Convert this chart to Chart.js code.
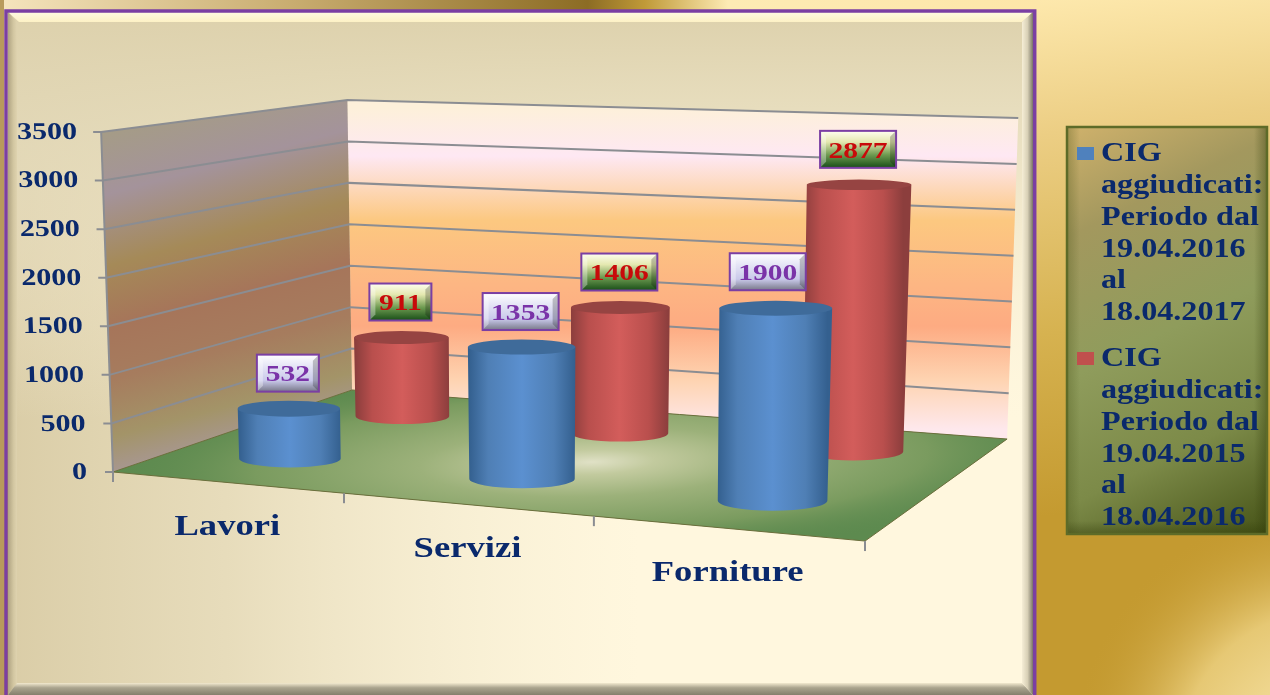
<!DOCTYPE html>
<html>
<head>
<meta charset="utf-8">
<style>html,body{margin:0;padding:0;background:#c49a30;overflow:hidden}canvas{display:block}</style>
<script src="https://cdn.jsdelivr.net/npm/chart.js@4/dist/chart.umd.min.js"></script>
</head>
<body>
<canvas id="c" width="1270" height="695"></canvas>
<script>
const categories = ['Lavori', 'Servizi', 'Forniture'];
const seriesNames = ['CIG aggiudicati: Periodo dal 19.04.2016 al 18.04.2017', 'CIG aggiudicati: Periodo dal 19.04.2015 al 18.04.2016'];
const values2017 = [532, 1353, 1900];
const values2016 = [911, 1406, 2877];
const legendLines2017 = ['CIG', 'aggiudicati:', 'Periodo dal', '19.04.2016', 'al', '18.04.2017'];
const legendLines2016 = ['CIG', 'aggiudicati:', 'Periodo dal', '19.04.2015', 'al', '18.04.2016'];
const axisMax = 3500;
const axisStep = 500;

const SERIF = '"Liberation Serif"';
const NAVY = '#0a296c';
const GRID = '#8b8d92';
// Camera model of the 3D scene: floor homography, wall height, series depth
const HOM = {a: 654.1, b: 299.8, c: 113, d: 7.8, e: -14.7, f: 472, g: -0.1132, h: 0.1726};
const WALL_H = 340, LEAN = 7.8e-5, LEAN_X = 560, CYL_K = 0.988;
const DEPTH = [0.25, 0.75], RADIUS = 52;
const STYLE = [
  {edge: '#34608f', mid: '#5b90d0', side: '#4f7fb5', top: '#3f6b9a', text: '#7a33a8',
   box: [[0, '#ffffff'], [.3, '#e6e6f6'], [.7, '#c9c9ea'], [1, '#777788']]},
  {edge: '#8c3e3d', mid: '#d35d5b', side: '#b94f4d', top: '#964442', text: '#c80a0a',
   box: [[0, '#fffff0'], [.3, '#e4e8b0'], [.65, '#6d9a50'], [1, '#174d17']]}
];
const NUDGE = {'0,2': [-7, -1]};

function project(u, v, frac) {
  const w = HOM.g * u + HOM.h * v + 1;
  const bx = (HOM.a * u + HOM.b * v + HOM.c) / w;
  const by = (HOM.d * u + HOM.e * v + HOM.f) / w;
  const h = WALL_H / w * frac;
  return {x: bx + (bx - LEAN_X) * LEAN * h, y: by - h, h: h, w: w};
}
function poly(ctx, pts) {
  ctx.beginPath();
  pts.forEach((p, i) => i ? ctx.lineTo(p.x, p.y) : ctx.moveTo(p.x, p.y));
  ctx.closePath();
}
function lin(ctx, x0, y0, x1, y1, stops) {
  const g = ctx.createLinearGradient(x0, y0, x1, y1);
  stops.forEach(s => g.addColorStop(s[0], s[1]));
  return g;
}
function stretchText(ctx, text, x, y, sx, align) {
  ctx.save();
  ctx.translate(x, y);
  ctx.scale(sx, 1);
  ctx.textAlign = align;
  ctx.textBaseline = 'middle';
  ctx.fillText(text, 0, 0);
  ctx.restore();
}

function drawPage(ctx) {
  const W = 1270, H = 695;
  ctx.fillStyle = lin(ctx, 1040, 0, 1110, 600, [[0, '#fde8ac'], [.22, '#ecce84'], [.55, '#d6b250'], [.85, '#c49a30'], [1, '#c49a30']]);
  ctx.fillRect(0, 0, W, H);
  const r = ctx.createRadialGradient(1330, 760, 40, 1330, 760, 260);
  r.addColorStop(0, '#f6e2a4'); r.addColorStop(.5, '#e6c874'); r.addColorStop(1, 'rgba(196,154,48,0)');
  ctx.fillStyle = r; ctx.fillRect(1036, 400, 234, 295);
  ctx.fillStyle = lin(ctx, 0, 0, 1040, 0, [[0, '#f5e4bd'], [.28, '#c9ad70'], [.565, '#8c6c24'], [.62, '#c09a38'], [.7, '#fdebb4'], [1, '#fde6a8']]);
  ctx.fillRect(0, 0, 1040, 11);
  ctx.fillStyle = '#b89a5c'; ctx.fillRect(0, 0, 4, H);
  // panel
  const L = 8, T = 12, R = 1033, B = 695, bv = 11;
  ctx.fillStyle = '#fff7de';
  ctx.fillRect(L, T, R - L, B - T);
  ctx.fillStyle = lin(ctx, L, 0, 640, 0, [[0, 'rgba(218,205,167,1)'], [.35, 'rgba(222,210,174,.72)'], [1, 'rgba(240,230,200,0)']]);
  ctx.fillRect(L, T, R - L, B - T);
  ctx.fillStyle = lin(ctx, 0, T, 0, 420, [[0, 'rgba(221,209,172,1)'], [.3, 'rgba(228,218,186,.8)'], [1, 'rgba(250,240,214,0)']]);
  ctx.fillRect(L, T, R - L, B - T);
  const band = (pts, fill) => { poly(ctx, pts); ctx.fillStyle = fill; ctx.fill(); };
  band([{x: L, y: T}, {x: R, y: T}, {x: R - bv, y: T + bv - 1}, {x: L + bv, y: T + bv - 1}], lin(ctx, 0, T, 0, T + bv, [[0, '#fffbe2'], [1, '#fdf0c2']]));
  band([{x: L, y: T}, {x: L + 9, y: T + 10}, {x: L + 9, y: B - 12}, {x: L, y: B}], lin(ctx, L, 0, L + 9, 0, [[0, '#b0a482'], [.6, '#d2c6a1'], [1, '#dfd3af']]));
  band([{x: L, y: B}, {x: L + 9, y: B - 12}, {x: R - bv, y: B - 12}, {x: R, y: B}], lin(ctx, 0, B - 12, 0, B, [[0, '#f2e9cf'], [.4, '#aaa48e'], [1, '#857f6c']]));
  band([{x: R, y: T}, {x: R - bv, y: T + bv - 1}, {x: R - bv, y: B - 12}, {x: R, y: B}], lin(ctx, R - bv, 0, R, 0, [[0, '#f6eed6'], [.5, '#d8d0b6'], [1, '#7b7666']]));
  ctx.strokeStyle = '#7b3fa3'; ctx.lineWidth = 3.5;
  ctx.beginPath(); ctx.moveTo(6, H); ctx.lineTo(6, 11); ctx.lineTo(1034.7, 11); ctx.lineTo(1034.7, H); ctx.stroke();
}

function drawLegend(ctx, datasets) {
  const x = 1066, y = 126, w = 202, h = 409;
  ctx.fillStyle = lin(ctx, x, y, x + w, y + h, [[0, '#d0b26c'], [.22, '#a3985e'], [.5, '#8f9c5c'], [.75, '#7c8a48'], [1, '#465317']]);
  ctx.fillRect(x, y, w, h);
  ctx.fillStyle = lin(ctx, x, 0, x + 14, 0, [[0, 'rgba(70,80,20,.35)'], [1, 'rgba(70,80,20,0)']]); ctx.fillRect(x, y, 14, h);
  ctx.fillStyle = lin(ctx, x + w - 14, 0, x + w, 0, [[0, 'rgba(50,60,10,0)'], [1, 'rgba(50,60,10,.45)']]); ctx.fillRect(x + w - 14, y, 14, h);
  ctx.fillStyle = lin(ctx, 0, y + h - 14, 0, y + h, [[0, 'rgba(50,60,10,0)'], [1, 'rgba(50,60,10,.45)']]); ctx.fillRect(x, y + h - 14, w, 14);
  ctx.strokeStyle = '#5d6b28'; ctx.lineWidth = 2.5; ctx.strokeRect(x + 1, y + 1, w - 2, h - 2);
  const groups = [legendLines2017, legendLines2016];
  const starts = [154.5, 359.5];
  groups.forEach((lines, g) => {
    ctx.fillStyle = datasets[g].backgroundColor;
    ctx.fillRect(1077, starts[g] - 7.5, 17, 13);
    ctx.fillStyle = NAVY;
    ctx.font = 'bold 27px ' + SERIF;
    lines.forEach((t, i) => stretchText(ctx, t, 1101, starts[g] + i * 31.7, 1.19, 'left'));
  });
}

function drawScene(chart) {
  const ctx = chart.ctx, y = chart.scales.y;
  const A = project(0, 0, 0), B = project(1, 0, 0), C = project(1, 1, 0), D = project(0, 1, 0);
  const At = project(0, 0, 1), Ct = project(1, 1, 1), Dt = project(0, 1, 1);
  // back wall
  poly(ctx, [D, Dt, Ct, C]);
  ctx.fillStyle = lin(ctx, 680, Dt.y + 8, 680, C.y - 10, [[0, '#fdf0da'], [.15, '#fee8f3'], [.35, '#fcc880'], [.55, '#fdb683'], [.68, '#fdab82'], [.85, '#fed4b2'], [1, '#fee8ec']]);
  ctx.fill();
  // left wall
  poly(ctx, [A, At, Dt, D]);
  ctx.fillStyle = lin(ctx, 180, 110, 270, 445, [[0, '#a59c86'], [.18, '#a4939b'], [.38, '#a58a58'], [.55, '#a6755a'], [.7, '#a67c5e'], [.86, '#a39468'], [1, '#a998a0']]);
  ctx.fill();
  // floor
  poly(ctx, [A, B, C, D]);
  ctx.fillStyle = '#5d8a4f';
  ctx.fill();
  ctx.save();
  ctx.clip();
  ctx.translate(592, 462); ctx.rotate(-0.03); ctx.scale(1, 0.2);
  const r = ctx.createRadialGradient(0, 0, 0, 0, 0, 480);
  r.addColorStop(0, '#e0e1c6'); r.addColorStop(.13, '#c2ca9e'); r.addColorStop(.36, '#9cb17a'); r.addColorStop(.7, '#7a9b5f'); r.addColorStop(1, 'rgba(93,138,79,0)');
  ctx.fillStyle = r; ctx.fillRect(-700, -900, 1400, 1800);
  ctx.restore();
  poly(ctx, [A, B, C, D]);
  ctx.strokeStyle = '#6b6f3c'; ctx.lineWidth = 1; ctx.stroke();
  // grid lines follow the value scale
  ctx.strokeStyle = GRID; ctx.lineWidth = 2;
  y.ticks.forEach(t => {
    const frac = (y.bottom - y.getPixelForValue(t.value)) / (y.bottom - y.top);
    const a = project(0, 0, frac), d = project(0, 1, frac), c = project(1, 1, frac);
    ctx.beginPath(); ctx.moveTo(a.x - 8, a.y); ctx.lineTo(a.x, a.y);
    if (frac > 0) { ctx.lineTo(d.x, d.y); ctx.lineTo(c.x, c.y); }
    ctx.stroke();
  });
  ctx.beginPath(); ctx.moveTo(At.x, At.y); ctx.lineTo(A.x, A.y); ctx.stroke();
  // category ticks on the front edge
  for (let i = 0; i <= categories.length; i++) {
    const p = project(i / categories.length, 0, 0);
    ctx.beginPath(); ctx.moveTo(p.x, p.y); ctx.lineTo(p.x, p.y + 10); ctx.stroke();
  }
}

function drawCylinder(ctx, u, v, frac, st) {
  const b = project(u, v, 0), t = project(u, v, frac * CYL_K);
  const rb = RADIUS / b.w, rt = rb * (1 + 1.5e-4 * t.h);
  const ratio = yy => 0.1 + 0.00025 * (yy - 184);
  const mb = rb * ratio(b.y) * 1.05, mt = rt * ratio(t.y);
  ctx.beginPath();
  ctx.moveTo(t.x - rt, t.y);
  ctx.lineTo(b.x - rb, b.y);
  ctx.ellipse(b.x, b.y, rb, mb, 0, Math.PI, 0, true);
  ctx.lineTo(t.x + rt, t.y);
  ctx.closePath();
  ctx.fillStyle = lin(ctx, b.x - rb, 0, b.x + rb, 0, [[0, st.edge], [.18, st.side], [.5, st.mid], [.8, st.side], [1, st.edge]]);
  ctx.fill();
  ctx.beginPath();
  ctx.ellipse(t.x, t.y, rt, mt, 0, 0, Math.PI * 2);
  ctx.fillStyle = st.top;
  ctx.fill();
}

function drawTag(ctx, text, cx, cy, st) {
  const w = text.length > 3 ? 76 : 62, h = 37, x = cx - w / 2, y = cy - h / 2;
  ctx.fillStyle = lin(ctx, 0, y, 0, y + h, st.box);
  ctx.fillRect(x, y, w, h);
  const e = 6;
  ctx.fillStyle = 'rgba(255,255,255,.35)';
  poly(ctx, [{x: x, y: y}, {x: x + e, y: y + e}, {x: x + e, y: y + h - e}, {x: x, y: y + h}]); ctx.fill();
  ctx.fillStyle = 'rgba(0,0,0,.22)';
  poly(ctx, [{x: x + w, y: y}, {x: x + w - e, y: y + e}, {x: x + w - e, y: y + h - e}, {x: x + w, y: y + h}]); ctx.fill();
  ctx.strokeStyle = '#7b3fa3'; ctx.lineWidth = 2;
  ctx.strokeRect(x, y, w, h);
  ctx.fillStyle = st.text;
  ctx.font = 'bold 24px ' + SERIF;
  stretchText(ctx, text, cx, cy + 2, 1.23, 'center');
}

const scenePlugin = {
  id: 'scene',
  afterLayout(chart) {
    const y = chart.scales.y;
    if (y.__wrapped) return;
    y.__wrapped = true;
    const orig = y.drawLabels;
    y.drawLabels = function (area) {
      const ctx = this.ctx, s = 1.25, k = 10 / 340, ax = this.right - 8, by = this.bottom;
      ctx.save();
      ctx.transform(s, 0, k, 1, ax - s * ax - k * by, 1);
      orig.call(this, area);
      ctx.restore();
    };
  },
  beforeDraw(chart) {
    drawPage(chart.ctx);
    drawLegend(chart.ctx, chart.data.datasets);
  },
  beforeDatasetsDraw(chart) { drawScene(chart); },
  beforeDatasetDraw(chart, args) {
    const x = chart.scales.x, y = chart.scales.y;
    args.meta.data.forEach((el, i) => {
      const u = (x.getPixelForValue(i) - x.left) / x.width;
      const frac = (y.bottom - y.getPixelForValue(chart.data.datasets[args.index].data[i])) / (y.bottom - y.top);
      drawCylinder(chart.ctx, u, DEPTH[args.index], frac, STYLE[args.index]);
    });
    return false;
  },
  afterDatasetsDraw(chart) {
    const ctx = chart.ctx, x = chart.scales.x, y = chart.scales.y;
    chart.data.datasets.forEach((ds, d) => ds.data.forEach((val, i) => {
      const u = (x.getPixelForValue(i) - x.left) / x.width;
      const t = project(u, DEPTH[d], CYL_K * (y.bottom - y.getPixelForValue(val)) / (y.bottom - y.top));
      const n = NUDGE[d + ',' + i] || [0, 0];
      drawTag(ctx, String(val), t.x - 1 + n[0], t.y - 35.5 + n[1], STYLE[d]);
    }));
    ctx.fillStyle = NAVY;
    ctx.font = 'bold 30px ' + SERIF;
    chart.data.labels.forEach((lab, i) => {
      const u = (x.getPixelForValue(i) - x.left) / x.width;
      const p = project(u, 0, 0);
      stretchText(ctx, lab, p.x + 1, p.y + 45, 1.22, 'center');
    });
  }
};

new Chart(document.getElementById('c'), {
  type: 'bar',
  data: {
    labels: categories,
    datasets: [
      {label: seriesNames[0], data: values2017, backgroundColor: '#4f81bd'},
      {label: seriesNames[1], data: values2016, backgroundColor: '#c0504d'}
    ]
  },
  plugins: [scenePlugin],
  options: {
    responsive: false,
    animation: false,
    layout: {padding: {top: 131.5, bottom: 223, left: 0, right: 252}},
    plugins: {legend: {display: false}, tooltip: {enabled: false}, title: {display: false}},
    scales: {
      x: {display: false},
      y: {
        min: 0, max: axisMax,
        afterFit(s) { s.width = 95; },
        grid: {display: false, drawTicks: false},
        border: {display: false},
        ticks: {stepSize: axisStep, padding: 8, color: NAVY, font: {family: SERIF, weight: 'bold', size: 24}, callback: v => String(v)}
      }
    }
  }
});
</script>
</body>
</html>
